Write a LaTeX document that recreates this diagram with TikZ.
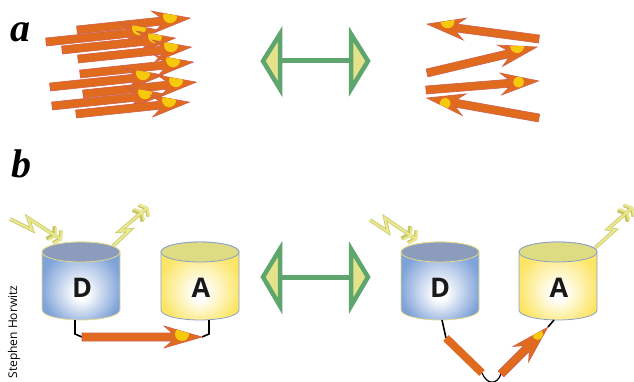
\documentclass[tikz,border=0pt]{standalone}
\usepackage{fontspec}
\setsansfont{Open Sans}
\setmainfont{Liberation Serif}
\usetikzlibrary{arrows.meta}
\definecolor{fretorange}{HTML}{E06B1F}
\definecolor{fretedge}{HTML}{CF5F4E}
\definecolor{fretdot}{HTML}{F6C90E}
\definecolor{swapgreen}{HTML}{5FA56E}
\definecolor{swapfill}{HTML}{E4E38A}
\definecolor{boltc}{HTML}{E9E88F}
\definecolor{boltedge}{HTML}{C9C66A}
\definecolor{dbody}{HTML}{7FA2D8}
\definecolor{dcap}{HTML}{8C9CBD}
\definecolor{dedge}{HTML}{E2DA8C}
\definecolor{abody}{HTML}{FCE565}
\definecolor{acap}{HTML}{DDDC82}
\definecolor{aedge}{HTML}{8D9EC6}

\pgfdeclareradialshading{dglow}{\pgfpoint{0bp}{-9bp}}{color(0bp)=(white); color(4bp)=(white); color(14bp)=(dbody!45); color(26bp)=(dbody); color(50bp)=(dbody)}
\pgfdeclareradialshading{aglow}{\pgfpoint{0bp}{-9bp}}{color(0bp)=(white); color(4bp)=(white); color(14bp)=(abody!45); color(26bp)=(abody); color(50bp)=(abody)}

% fret arrow outline, tail at the origin, tip at (#1,0)
\newcommand{\fretshape}[1]{(0,-4) -- (#1-30,-4) -- (#1-38,-11) -- (#1,0) -- (#1-38,11) -- (#1-30,4) -- (0,4) -- cycle}
% tail, angle, length, dot distance from tip, dot side offset, dot radius
\newcommand{\fret}[6]{%
  \begin{scope}[shift={(#1)},rotate=#2]
    \path[fill=fretorange,draw=fretedge,line width=0.6pt] \fretshape{#3};
    \begin{scope}
      \clip \fretshape{#3};
      \fill[fretdot] (#3-#4,#5) circle (#6pt);
    \end{scope}
  \end{scope}}
% cylinder: centre x, top y, bottom y, shading, cap colour, edge colour
\newcommand{\drum}[6]{%
  \shadedraw[shading=#4,draw=#6,line width=0.8pt] (#1-39,#2) -- (#1-39,#3)
    arc[start angle=180,end angle=0,x radius=39,y radius=10] -- (#1+39,#2)
    arc[start angle=0,end angle=-180,x radius=39,y radius=10] -- cycle;
  \filldraw[fill=#5,draw=#6,line width=0.8pt] (#1,#2) ellipse[x radius=39,y radius=10];}

\begin{document}
\begin{tikzpicture}[x=1pt,y=-1pt,
    twoway/.style={draw=swapgreen,line width=4.5pt,line join=miter,fill=swapfill},
    bolt/.style={draw=boltc,line width=2.2pt,line join=miter,
      preaction={draw=boltedge,line width=3.6pt},
      -{Straight Barb[length=4pt,width=15pt] Straight Barb[length=4pt,width=15pt]}},
    link/.style={draw=black,line width=1.6pt},
    drumtag/.style={font=\sffamily\bfseries\fontsize{27}{27}\selectfont,text=black!90},
    paneltag/.style={font=\bfseries\itshape\fontsize{40}{40}\selectfont,anchor=base}]
\useasboundingbox (0,0) rectangle (634,382);

% panel labels
\node[paneltag] (tagA) at (20,42) {a};
\node[paneltag] (tagB) at (21,178) {b};
\node[font=\sffamily\fontsize{12}{12}\selectfont,rotate=90] (credit) at (14,332) {Stephen Horwitz};

% stacked parallel arrows
\fret{77,30}{6}{114}{20}{-4}{7}
\fret{46,42}{6}{114}{20}{-4}{7}
\fret{62,50}{6}{114}{20}{-4}{7}
\fret{78,59}{6}{114}{20}{-4}{7}
\fret{80,74}{6}{114}{20}{-4}{7}
\fret{50,87}{6}{114}{20}{-4}{7}
\fret{83,94}{6}{114}{20}{-4}{7}
\fret{52,106}{6}{114}{20}{-4}{7}
\fret{76,114}{6}{114}{20}{-4}{7}

% antiparallel arrows
\fret{539,39}{172.4}{113}{20}{5.5}{7}
\fret{427,73}{13.3}{113}{19}{-5.5}{7}
\fret{426,90}{4.6}{113}{20}{-0.5}{5.5}
\fret{539,118}{169.9}{114}{19}{-2}{5.5}

% double-headed green arrows
\draw[twoway] (263,61) -- (280,34) -- (280,89) -- cycle;
\draw[twoway] (368,61) -- (351,34) -- (351,89) -- cycle;
\draw[draw=swapgreen,line width=5pt] (282,61) -- (349,61);
\draw[twoway] (263,277) -- (280,249) -- (280,306) -- cycle;
\draw[twoway] (368,277) -- (351,249) -- (351,306) -- cycle;
\draw[draw=swapgreen,line width=5pt] (282,277) -- (349,277);

% light in and out
\draw[bolt] (10,219) -- (32,230) -- (28,218) -- (62,240);
\draw[bolt] (112,247) -- (130,230) -- (120,231) -- (148,207);
\draw[bolt] (370,220) -- (388,232) -- (385,218) -- (417,240);
\draw[bolt] (595,248) -- (615,230) -- (608,229) -- (633,207);

% donor and acceptor, left pair
\drum{81}{252}{310}{dglow}{dcap}{dedge}
\drum{200}{252}{310}{aglow}{acap}{aedge}
\node[drumtag] (donorL) at (82,288) {D};
\node[drumtag] (accL) at (201,288) {A};

% donor and acceptor, right pair
\drum{440}{252}{310}{dglow}{dcap}{dedge}
\drum{558}{252}{310}{aglow}{acap}{aedge}
\node[drumtag] (donorR) at (440,288) {D};
\node[drumtag] (accR) at (559,288) {A};

% rigid linker
\coordinate (dLfoot) at (75,320);
\coordinate (aLfoot) at (209,320);
\coordinate (tailL) at (82,337);
\coordinate (tipL) at (202,337);
\draw[link] (dLfoot) -- ++(0,14) -- (tailL);
\draw[link] (aLfoot) -- ++(0,14) -- (tipL);
\fret{82,337}{0}{120}{20}{-3}{7}

% flexible linker
\coordinate (dRfoot) at (442,320);
\coordinate (barA) at (446,338);
\coordinate (barB) at (482,373);
\coordinate (tailR) at (501,374);
\coordinate (tipR) at (548,327);
\coordinate (aRfoot) at (554,320);
\draw[link] (dRfoot) -- (barA);
\draw[link,line width=1.2pt] (barB) .. controls (487,385) and (497,385) .. (tailR);
\draw[link] (tipR) -- (aRfoot);
\draw[draw=fretorange,line width=8pt] (barA) -- (barB);
\fret{501,374}{45}{66}{12}{-2}{5.5}
\end{tikzpicture}
\end{document}
